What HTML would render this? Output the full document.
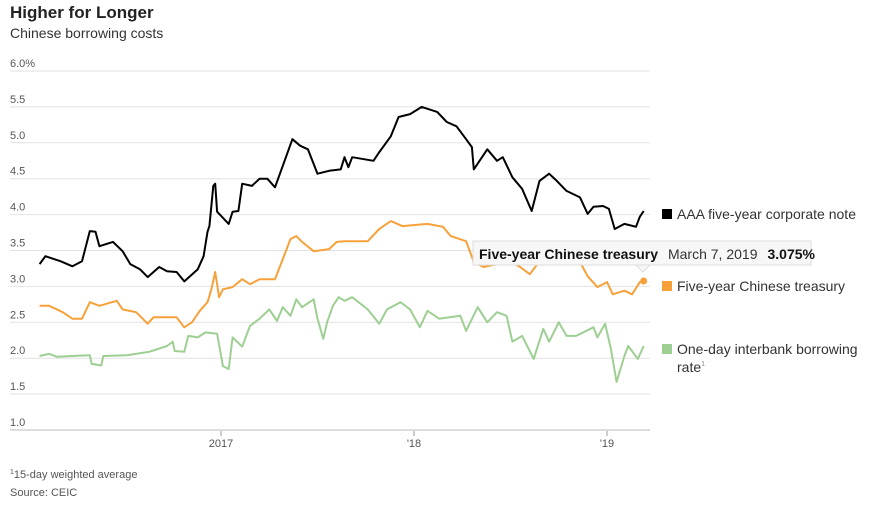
<!DOCTYPE html>
<html><head><meta charset="utf-8"><style>
body{margin:0;background:#fff;font-family:"Liberation Sans",sans-serif;}
svg text{font-family:"Liberation Sans",sans-serif;}
</style></head><body>
<svg id="chart" width="884" height="508" viewBox="0 0 884 508" xmlns="http://www.w3.org/2000/svg">
<text x="10" y="18" font-size="17" font-weight="bold" fill="#222">Higher for Longer</text>
<text x="10" y="38" font-size="14" fill="#333">Chinese borrowing costs</text>
<g id="grid"></g>
<g id="xaxis"></g>
<g id="series"></g>
<g>
<rect x="662" y="209" width="10" height="10" fill="#000"/>
<text x="677" y="219" font-size="14" fill="#333">AAA five-year corporate note</text>
<rect x="662" y="281" width="10" height="10" fill="#f7a13a"/>
<text x="677" y="291" font-size="14" fill="#333">Five-year Chinese treasury</text>
<rect x="662" y="344" width="10" height="10" fill="#9ecf92"/>
<text x="677" y="354" font-size="14" fill="#333">One-day interbank borrowing</text>
<text x="677" y="372" font-size="14" fill="#333">rate<tspan font-size="7" dy="-6" fill="#888">1</tspan></text>
</g>
<g>
<rect x="473" y="241" width="338" height="24" fill="#f7f7f7" stroke="#ddd"/>
<path d="M636 265 L643 272 L650 265 Z" fill="#f7f7f7" stroke="#ddd"/>
<text x="479" y="259" font-size="14" fill="#111"><tspan font-weight="bold">Five-year Chinese treasury</tspan><tspan dx="10" fill="#333">March 7, 2019</tspan><tspan dx="10" font-weight="bold">3.075%</tspan></text>
</g>
<text x="10" y="478" font-size="11" fill="#555"><tspan font-size="7" dy="-4">1</tspan><tspan dy="4">15-day weighted average</tspan></text>
<text x="10" y="496" font-size="11" fill="#555">Source: CEIC</text>
</svg>
<script>
const yTicks=[6.0,5.5,5.0,4.5,4.0,3.5,3.0,2.5,2.0,1.5,1.0];
const xTicks=[2017,2018,2019];
const xTickLabels=["2017","'18","'19"];
const aaaDates=[2016.06,2016.09,2016.17,2016.23,2016.28,2016.30,2016.32,2016.35,2016.37,2016.44,2016.49,2016.53,2016.58,2016.62,2016.68,2016.72,2016.77,2016.81,2016.88,2016.91,2016.93,2016.94,2016.96,2016.97,2016.98,2017.04,2017.06,2017.09,2017.11,2017.16,2017.20,2017.24,2017.28,2017.32,2017.37,2017.41,2017.45,2017.50,2017.56,2017.62,2017.64,2017.66,2017.68,2017.79,2017.82,2017.88,2017.92,2017.98,2018.04,2018.12,2018.17,2018.22,2018.27,2018.30,2018.31,2018.38,2018.43,2018.46,2018.51,2018.56,2018.61,2018.65,2018.70,2018.74,2018.79,2018.86,2018.90,2018.93,2018.98,2019.01,2019.04,2019.09,2019.15,2019.17,2019.19];
const aaaValues=[3.31,3.42,3.35,3.28,3.35,3.56,3.77,3.76,3.56,3.62,3.49,3.31,3.24,3.13,3.27,3.21,3.20,3.07,3.24,3.42,3.76,3.84,4.40,4.43,4.04,3.87,4.04,4.05,4.43,4.40,4.50,4.50,4.38,4.68,5.05,4.96,4.91,4.57,4.61,4.63,4.80,4.66,4.80,4.75,4.87,5.09,5.36,5.40,5.50,5.43,5.29,5.23,5.05,4.94,4.63,4.91,4.75,4.80,4.52,4.36,4.05,4.47,4.57,4.47,4.33,4.24,4.01,4.11,4.12,4.08,3.80,3.87,3.83,3.97,4.05];
const tsyDates=[2016.06,2016.11,2016.18,2016.23,2016.28,2016.32,2016.37,2016.46,2016.49,2016.56,2016.62,2016.65,2016.77,2016.81,2016.85,2016.89,2016.93,2016.95,2016.97,2016.99,2017.01,2017.06,2017.11,2017.15,2017.20,2017.28,2017.32,2017.36,2017.39,2017.42,2017.48,2017.56,2017.60,2017.64,2017.76,2017.82,2017.88,2017.94,2018.07,2018.15,2018.19,2018.27,2018.31,2018.36,2018.43,2018.50,2018.55,2018.60,2018.65,2018.76,2018.86,2018.90,2018.95,2019.00,2019.03,2019.09,2019.13,2019.17,2019.19];
const tsyValues=[2.73,2.73,2.64,2.55,2.55,2.78,2.73,2.80,2.68,2.64,2.48,2.57,2.57,2.43,2.50,2.66,2.78,2.96,3.20,2.85,2.96,2.99,3.10,3.03,3.10,3.10,3.38,3.66,3.70,3.62,3.49,3.52,3.62,3.63,3.63,3.80,3.91,3.84,3.87,3.83,3.70,3.63,3.34,3.27,3.31,3.35,3.27,3.17,3.35,3.38,3.34,3.14,2.99,3.06,2.89,2.94,2.89,3.06,3.075];
const ibDates=[2016.06,2016.11,2016.15,2016.23,2016.32,2016.33,2016.38,2016.39,2016.51,2016.63,2016.72,2016.75,2016.76,2016.81,2016.83,2016.88,2016.92,2016.98,2017.01,2017.04,2017.06,2017.11,2017.15,2017.20,2017.25,2017.29,2017.32,2017.36,2017.39,2017.42,2017.48,2017.50,2017.53,2017.55,2017.58,2017.61,2017.64,2017.68,2017.76,2017.82,2017.86,2017.93,2017.98,2018.03,2018.07,2018.13,2018.24,2018.27,2018.33,2018.38,2018.43,2018.48,2018.51,2018.56,2018.62,2018.67,2018.70,2018.75,2018.79,2018.84,2018.93,2018.95,2018.99,2019.02,2019.05,2019.09,2019.11,2019.16,2019.19];
const ibValues=[2.03,2.06,2.02,2.03,2.04,1.92,1.90,2.03,2.04,2.09,2.17,2.23,2.10,2.09,2.31,2.29,2.36,2.34,1.89,1.85,2.29,2.16,2.45,2.55,2.68,2.52,2.71,2.59,2.82,2.71,2.82,2.55,2.27,2.50,2.73,2.85,2.80,2.85,2.68,2.48,2.68,2.78,2.68,2.43,2.66,2.55,2.59,2.38,2.71,2.50,2.64,2.59,2.23,2.31,1.99,2.41,2.23,2.50,2.31,2.31,2.43,2.29,2.48,2.13,1.67,2.03,2.17,1.99,2.17];

const NS='http://www.w3.org/2000/svg';
const X=t=>221+(t-2017)*193;
const Y=v=>71+(6-v)*71.8;
const grid=document.getElementById('grid');
yTicks.forEach((v,i)=>{
  const l=document.createElementNS(NS,'line');
  
  
  l.setAttribute('x1',10);l.setAttribute('x2',650);
  l.setAttribute('y1',Y(v));l.setAttribute('y2',Y(v));
  l.setAttribute('stroke',v===1.0?'#bbb':'#e2e2e2');l.setAttribute('stroke-width',1);
  grid.appendChild(l);
  const t=document.createElementNS(NS,'text');
  
  
  t.setAttribute('x',10);t.setAttribute('y',Y(v)-4);
  t.setAttribute('font-size',11);t.setAttribute('fill','#555');
  t.textContent=v.toFixed(1)+(i===0?'%':'');
  grid.appendChild(t);
});
const xa=document.getElementById('xaxis');
xTicks.forEach((t,i)=>{
  const l=document.createElementNS(NS,'line');
  
  
  l.setAttribute('x1',X(t));l.setAttribute('x2',X(t));
  l.setAttribute('y1',431);l.setAttribute('y2',436);
  l.setAttribute('stroke','#999');
  xa.appendChild(l);
  const tx=document.createElementNS(NS,'text');
  
  
  tx.setAttribute('x',X(t));tx.setAttribute('y',447);
  tx.setAttribute('text-anchor','middle');
  tx.setAttribute('font-size',11);tx.setAttribute('fill','#555');
  tx.textContent=xTickLabels[i];
  xa.appendChild(tx);
});
const sg=document.getElementById('series');
function line(d,v,color,name){
  const p=document.createElementNS(NS,'path');
  
  
  p.setAttribute('d',d.map((t,i)=>(i?'L':'M')+X(t).toFixed(1)+' '+Y(v[i]).toFixed(1)).join(' '));
  p.setAttribute('fill','none');p.setAttribute('stroke',color);
  p.setAttribute('stroke-width',2);p.setAttribute('stroke-linejoin','round');
  sg.appendChild(p);
}
line(ibDates,ibValues,'#9ecf92','interbank-line');
line(tsyDates,tsyValues,'#f7a13a','treasury-line');
line(aaaDates,aaaValues,'#000','aaa-line');
const dot=document.createElementNS(NS,'circle');


dot.setAttribute('cx',X(tsyDates[tsyDates.length-1]));
dot.setAttribute('cy',Y(tsyValues[tsyValues.length-1]));
dot.setAttribute('r',3.5);dot.setAttribute('fill','#f7a13a');
sg.appendChild(dot);
</script>
</body></html>
